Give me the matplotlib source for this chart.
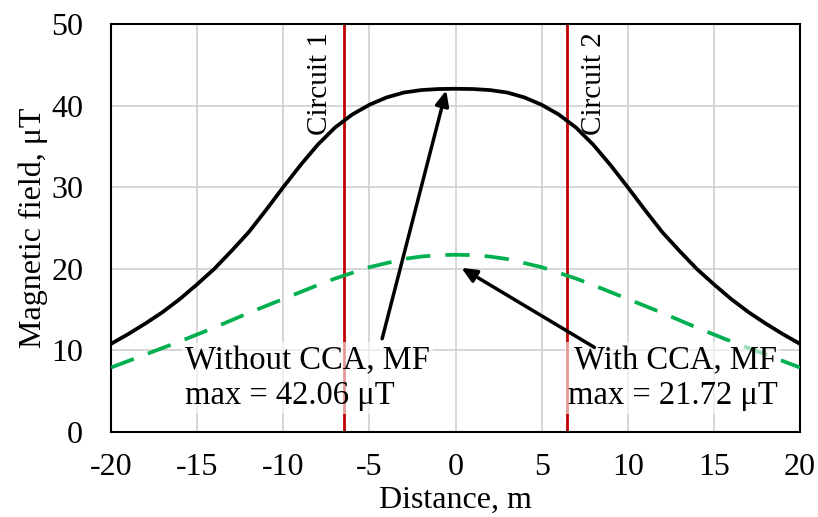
import matplotlib.pyplot as plt

plt.rcParams['font.family'] = ['Liberation Serif', 'DejaVu Serif']
plt.rcParams['axes.unicode_minus'] = False

# Distance from centre line, m
distance = [-20, -19, -18, -17, -16, -15, -14, -13, -12, -11, -10,
            -9, -8, -7, -6, -5, -4, -3, -2, -1, 0,
            1, 2, 3, 4, 5, 6, 7, 8, 9, 10,
            11, 12, 13, 14, 15, 16, 17, 18, 19, 20]

# Magnetic field without CCA, uT
mf_without = [10.8, 12.0, 13.3, 14.7, 16.3, 18.1, 20.0, 22.2, 24.5, 27.2, 30.0,
              32.7, 35.2, 37.3, 38.9, 40.1, 41.0, 41.6, 41.9, 42.03, 42.06,
              42.03, 41.9, 41.6, 41.0, 40.1, 38.9, 37.3, 35.2, 32.7, 30.0,
              27.2, 24.5, 22.2, 20.0, 18.1, 16.3, 14.7, 13.3, 12.0, 10.8]

# Magnetic field with CCA, uT
mf_with = [7.9, 8.7, 9.5, 10.3, 11.1, 11.95, 12.8, 13.7, 14.6, 15.45, 16.3,
           17.15, 18.0, 18.8, 19.5, 20.2, 20.7, 21.2, 21.5, 21.68, 21.72,
           21.68, 21.5, 21.2, 20.7, 20.2, 19.5, 18.8, 18.0, 17.15, 16.3,
           15.45, 14.6, 13.7, 12.8, 11.95, 11.1, 10.3, 9.5, 8.7, 7.9]

circuit_pos = [-6.5, 6.5]
circuit_names = ['Circuit 1', 'Circuit 2']

fig = plt.figure(figsize=(8.18, 5.17), dpi=100)
ax = fig.add_axes([0.1357, 0.1644, 0.8423, 0.7892])

ax.plot(distance, mf_without, color='black', lw=2.7, zorder=3)
ax.plot(distance, mf_with, color='#00B050', lw=2.7, ls=(0, (6.5, 4)), zorder=3)

# circuit 1 label on the left of its line, circuit 2 on the right
offsets = [(-0.6, 'right'), (0.8, 'left')]
for xc, name, (dx, ha) in zip(circuit_pos, circuit_names, offsets):
    ax.axvline(xc, color='#C00000', lw=2, zorder=2)
    ax.text(xc + dx, 49.0, name, rotation=90, ha=ha, va='top', fontsize=21)

# annotations
ax.annotate('', xy=(-0.5, 42.2), xytext=(-4.3, 11.1),
            arrowprops=dict(arrowstyle='-|>,head_length=0.9,head_width=0.4',
                            color='black', lw=2.5), zorder=5)
ax.annotate('', xy=(0.2, 20.3), xytext=(8.2, 10.2),
            arrowprops=dict(arrowstyle='-|>,head_length=0.9,head_width=0.4',
                            color='black', lw=2.5), zorder=5)

box = dict(facecolor='white', edgecolor='none', alpha=0.6, pad=2)
ax.text(-15.7, 6.6, 'Without CCA, MF\nmax = 42.06 \u03bcT', fontsize=23.5,
        ha='left', va='center', linespacing=1.2, bbox=box, zorder=4)
ax.text(12.6, 6.6, 'With CCA, MF\nmax = 21.72 \u03bcT', fontsize=23.5,
        ha='center', va='center', linespacing=1.2, multialignment='right',
        bbox=box, zorder=4)

ax.set_xlim(-20, 20)
ax.set_ylim(0, 50)
ax.set_xticks(range(-20, 21, 5))
ax.set_yticks(range(0, 51, 10))
ax.grid(True, color='#CFCFCF', lw=1.2)
ax.set_axisbelow(True)
ax.tick_params(length=0, labelsize=23)
ax.tick_params(axis='y', pad=20)
ax.tick_params(axis='x', pad=15)
for s in ax.spines.values():
    s.set_linewidth(1.5)
    s.set_color('black')

ax.set_xlabel('Distance, m', fontsize=23, labelpad=3)
ax.set_ylabel('Magnetic field, \u03bcT', fontsize=23, labelpad=2)

fig.savefig('out.png', dpi=100)
